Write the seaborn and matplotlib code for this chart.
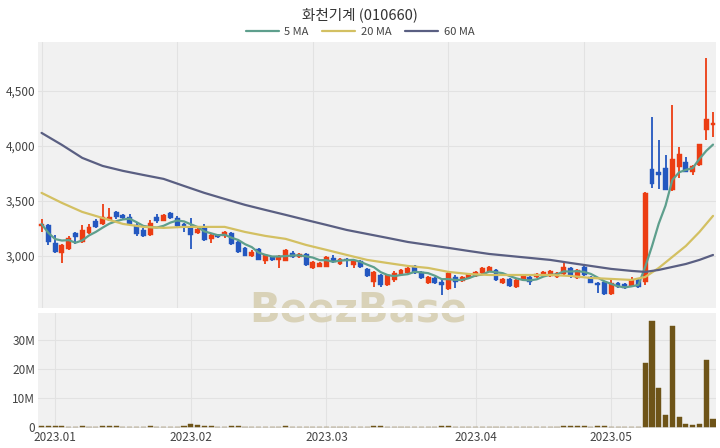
import numpy as np
import pandas as pd
import matplotlib
matplotlib.use('Agg')
import matplotlib.pyplot as plt
from matplotlib.lines import Line2D
import seaborn as sns

# 화천기계 daily candles, 2022-12-28 .. 2023-05-24 (trading-day index)
title = '화천기계 (010660)'

opens = [3270, 3280, 3120, 3030, 3060, 3210, 3130, 3210, 3320, 3290,
         3330, 3400, 3370, 3350, 3280, 3240, 3190, 3350, 3320, 3390,
         3345, 3290, 3250, 3210, 3265, 3150, 3190, 3185, 3210, 3130,
         3070, 3000, 3064, 2955, 2990, 2960, 2955, 3027, 2991, 3018,
         2891, 2900, 2900, 2982, 2927, 2970, 2918, 2955, 2882, 2764,
         2827, 2736, 2782, 2827, 2845, 2910, 2855, 2755, 2800, 2764,
         2700, 2810, 2773, 2800, 2818, 2845, 2855, 2873, 2755, 2790,
         2718, 2782, 2810, 2809, 2818, 2818, 2809, 2836, 2890, 2800,
         2900, 2810, 2755, 2764, 2650, 2755, 2745, 2727, 2782, 2760,
         3790, 3765, 3800, 3600, 3810, 3855, 3765, 3830, 4145, 4190]
highs = [3340, 3290, 3190, 3110, 3180, 3220, 3280, 3290, 3340, 3475,
         3440, 3410, 3385, 3380, 3300, 3250, 3330, 3380, 3380, 3400,
         3360, 3300, 3345, 3260, 3290, 3200, 3195, 3225, 3220, 3140,
         3080, 3050, 3070, 3020, 3000, 3010, 3065, 3045, 3025, 3030,
         2955, 2945, 3000, 3010, 2985, 2980, 2965, 2965, 2890, 2860,
         2840, 2840, 2860, 2885, 2900, 2920, 2865, 2820, 2810, 2780,
         2860, 2830, 2820, 2845, 2865, 2900, 2910, 2885, 2800, 2800,
         2790, 2835, 2820, 2845, 2865, 2870, 2850, 2945, 2900, 2880,
         2910, 2815, 2760, 2770, 2782, 2760, 2750, 2810, 2790, 3580,
         4265, 4055, 3920, 4375, 3990, 3900, 3830, 4020, 4800, 4310]
lows = [3220, 3100, 3030, 2940, 3050, 3110, 3120, 3200, 3250, 3280,
        3320, 3340, 3335, 3280, 3180, 3170, 3180, 3300, 3315, 3340,
        3265, 3220, 3060, 3200, 3140, 3120, 3160, 3160, 3100, 3030,
        2995, 2990, 2960, 2930, 2950, 2890, 2950, 2985, 2985, 2910,
        2885, 2895, 2895, 2940, 2920, 2900, 2890, 2890, 2810, 2720,
        2720, 2725, 2760, 2820, 2840, 2840, 2790, 2745, 2745, 2645,
        2690, 2710, 2765, 2790, 2810, 2835, 2850, 2770, 2745, 2720,
        2710, 2775, 2736, 2800, 2810, 2810, 2800, 2830, 2800, 2790,
        2820, 2750, 2664, 2645, 2645, 2710, 2700, 2720, 2710, 2740,
        3620, 3610, 3595, 3590, 3710, 3760, 3740, 3820, 4055, 4080]
closes = [3290, 3130, 3040, 3100, 3160, 3170, 3236, 3265, 3260, 3355,
          3350, 3350, 3345, 3290, 3200, 3180, 3300, 3320, 3370, 3345,
          3275, 3260, 3190, 3245, 3145, 3190, 3170, 3215, 3110, 3040,
          3000, 3036, 2965, 3009, 2965, 3000, 3055, 2991, 3018, 2918,
          2945, 2936, 2991, 2945, 2973, 2960, 2955, 2900, 2818, 2855,
          2736, 2827, 2845, 2873, 2890, 2845, 2800, 2810, 2755, 2736,
          2845, 2764, 2810, 2836, 2855, 2890, 2900, 2782, 2790, 2727,
          2782, 2827, 2764, 2836, 2855, 2864, 2845, 2900, 2827, 2873,
          2827, 2755, 2736, 2655, 2755, 2718, 2709, 2782, 2718, 3575,
          3655, 3740, 3600, 3880, 3925, 3765, 3820, 4018, 4245, 4210]
volumes_m = [0.25, 0.3, 0.2, 0.25, 0.15, 0.15, 0.2, 0.15, 0.15, 0.3,
             0.25, 0.2, 0.15, 0.15, 0.15, 0.1, 0.2, 0.15, 0.15, 0.15,
             0.15, 0.2, 1.1, 0.6, 0.25, 0.2, 0.15, 0.15, 0.4, 0.2,
             0.15, 0.1, 0.15, 0.15, 0.1, 0.15, 0.2, 0.1, 0.1, 0.15,
             0.15, 0.1, 0.15, 0.1, 0.1, 0.1, 0.1, 0.1, 0.15, 0.2,
             0.2, 0.15, 0.1, 0.1, 0.1, 0.1, 0.15, 0.1, 0.15, 0.25,
             0.2, 0.15, 0.1, 0.1, 0.1, 0.1, 0.1, 0.15, 0.1, 0.1,
             0.1, 0.1, 0.1, 0.1, 0.1, 0.15, 0.1, 0.35, 0.25, 0.2,
             0.3, 0.15, 0.2, 0.2, 0.15, 0.1, 0.1, 0.1, 0.1, 22.0,
             36.5, 13.4, 4.2, 35.0, 3.6, 0.9, 0.6, 1.0, 23.0, 2.8]

# moving averages (index, price)
ma20_idx = [0, 3, 6, 9, 12, 15, 18, 21, 24, 27, 30, 33, 36, 39, 42, 45, 48, 51,
            54, 57, 60, 63, 66, 69, 72, 75, 78, 81, 84, 87, 89, 91, 93, 95, 97, 99]
ma20_vals = [3573, 3482, 3400, 3345, 3291, 3264, 3255, 3264, 3264, 3264, 3218, 3182,
             3155, 3100, 3055, 3009, 2964, 2936, 2909, 2891, 2855, 2836, 2827, 2827,
             2827, 2827, 2818, 2800, 2791, 2782, 2809, 2891, 2991, 3091, 3218, 3364]
ma60_idx = [0, 3, 6, 9, 12, 15, 18, 21, 24, 27, 30, 33, 36, 39, 42, 45, 48, 51,
            54, 57, 60, 63, 66, 69, 72, 75, 78, 81, 84, 87, 89, 91, 93, 95, 97, 99]
ma60_vals = [4118, 4009, 3891, 3818, 3773, 3736, 3700, 3636, 3573, 3518, 3464, 3418,
             3373, 3327, 3282, 3236, 3200, 3164, 3127, 3100, 3073, 3045, 3018, 3000,
             2982, 2964, 2936, 2909, 2882, 2864, 2855, 2873, 2900, 2927, 2964, 3009]

month_pos = [2, 22, 42, 64, 84]
month_labels = ['2023.01', '2023.02', '2023.03', '2023.04', '2023.05']

df = pd.DataFrame({'open': opens, 'high': highs, 'low': lows,
                   'close': closes, 'volume': np.array(volumes_m) * 1e6})
df['idx'] = np.arange(len(df))
df['ma5'] = df['close'].rolling(5, min_periods=1).mean()

UP = '#ec3d13'
DOWN = '#2458c0'
C5 = '#5e9f8d'
C20 = '#d3c062'
C60 = '#5a5f82'

sns.set_theme(style='white')
plt.rcParams['font.family'] = ['Noto Sans CJK KR', 'DejaVu Sans']

fig = plt.figure(figsize=(7.2, 4.48), dpi=100)
ax = fig.add_axes([0.053, 0.3125, 0.942, 0.594])
axv = fig.add_axes([0.053, 0.045, 0.942, 0.256])

for a in (ax, axv):
    a.set_facecolor('#f1f1f1')
    for s in a.spines.values():
        s.set_visible(False)
    a.set_axisbelow(True)
    a.grid(True, color='#e2e2e2', lw=0.8)
    a.tick_params(length=0, labelsize=8.5, labelcolor='#444444', pad=2)
    a.set_xlim(-0.5, 99.5)

# candles
cols = np.where(df['close'] >= df['open'], UP, DOWN)
ax.vlines(df['idx'], df['low'], df['high'], color=cols, lw=1.3, zorder=3)
body_lo = np.minimum(df['open'], df['close'])
body_h = np.maximum(np.abs(df['close'] - df['open']), 12)
ax.bar(df['idx'], body_h, bottom=body_lo, width=0.72, color=cols,
       edgecolor=cols, linewidth=0.3, zorder=3)

sns.lineplot(x=df['idx'], y=df['ma5'], ax=ax, color=C5, lw=1.6, zorder=4)
sns.lineplot(x=ma20_idx, y=ma20_vals, ax=ax, color=C20, lw=1.6, zorder=4)
sns.lineplot(x=ma60_idx, y=ma60_vals, ax=ax, color=C60, lw=1.6, zorder=4)

ax.set_ylim(2527, 4945)
ax.set_yticks([3000, 3500, 4000, 4500])
ax.set_yticklabels(['3,000', '3,500', '4,000', '4,500'])
ax.set_xticks([0, 20, 40, 60, 80])
ax.set_xticklabels([])
ax.set_xlabel('')
ax.set_ylabel('')

# volume
axv.bar(df['idx'], df['volume'], width=0.75, color='#6e5418', edgecolor='#6e5418',
        linewidth=0.3, zorder=3)
axv.set_ylim(-0.3e6, 39.3e6)
axv.set_yticks([0, 10e6, 20e6, 30e6])
axv.set_yticklabels(['0', '10M', '20M', '30M'])
axv.set_xticks(month_pos)
axv.set_xticklabels(month_labels)

# watermark
for a in (ax, axv):
    a.text(0.497, 0.306, 'BeezBase', transform=fig.transFigure, ha='center', va='center',
           fontsize=29, fontweight='bold', color='#d9d2b8', zorder=1, clip_on=True,
           family=['DejaVu Sans'])

fig.text(0.5, 0.968, title, ha='center', va='center', fontsize=10.5, color='#333333')
handles = [Line2D([], [], color=C5, lw=1.6), Line2D([], [], color=C20, lw=1.6),
           Line2D([], [], color=C60, lw=1.6)]
fig.legend(handles, ['5 MA', '20 MA', '60 MA'], loc='center', bbox_to_anchor=(0.5, 0.928),
           ncol=3, frameon=False, fontsize=8, handlelength=3, columnspacing=1.2,
           handletextpad=0.5, labelcolor='#444444')

fig.savefig('out.png', dpi=100)
